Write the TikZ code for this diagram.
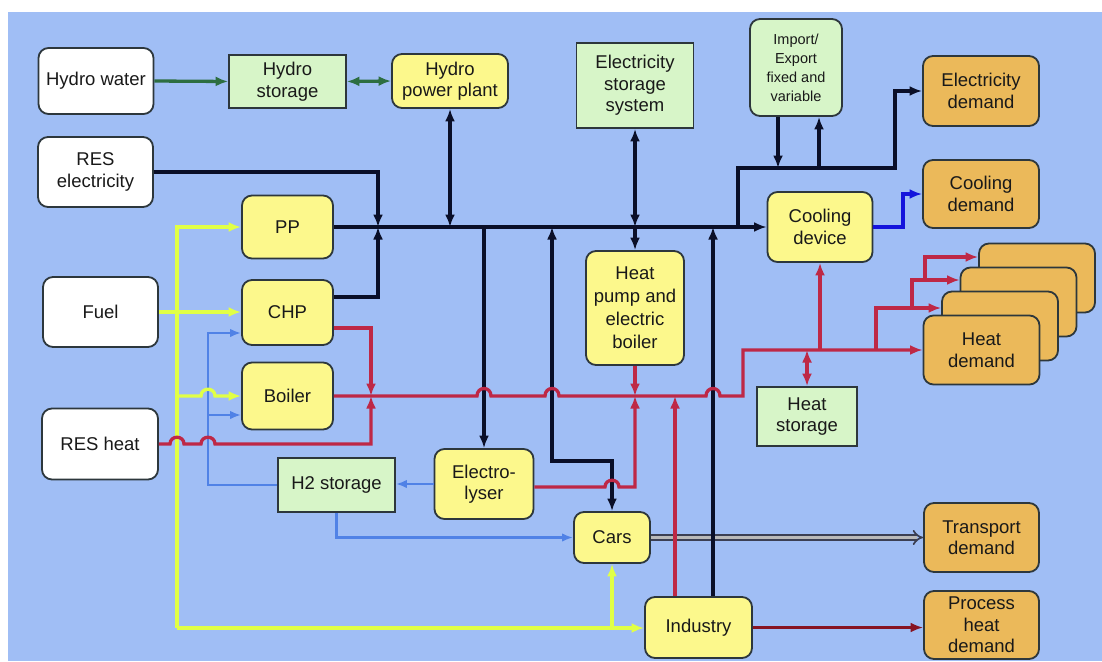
\documentclass[tikz,border=0pt]{standalone}
\usepackage{fontspec}
\setmainfont{Liberation Sans}
\usetikzlibrary{arrows.meta,calc}
\definecolor{bg}{RGB}{160,190,245}
\definecolor{bord}{RGB}{45,55,60}
\definecolor{txt}{RGB}{25,25,25}
\definecolor{yel}{RGB}{252,248,140}
\definecolor{grn}{RGB}{215,245,200}
\definecolor{org}{RGB}{235,185,90}
\definecolor{blk}{RGB}{10,15,40}
\definecolor{redl}{RGB}{190,40,70}
\definecolor{yell}{RGB}{225,255,70}
\definecolor{h2b}{RGB}{80,130,230}
\definecolor{coolb}{RGB}{20,20,220}
\definecolor{dgrn}{RGB}{45,110,65}
\definecolor{dred}{RGB}{135,20,35}
\begin{document}
\begin{tikzpicture}[x=1pt,y=-1pt,
  >={Latex[length=12.5pt,width=10pt]},
  box/.style={draw=bord, line width=1.8pt, align=center, inner sep=1pt, text=txt, font=\fontsize{18.5}{21.5}\selectfont},
  rbox/.style={box, rounded corners=10pt},
  wbox/.style={rbox, fill=white},
  ybox/.style={rbox, fill=yel},
  gbox/.style={box, fill=grn},
  obox/.style={rbox, fill=org},
  sz/.style 2 args={minimum width=#1pt, minimum height=#2pt},
  elec/.style={draw=blk, line width=3.6pt},
  heat/.style={draw=redl, line width=3.3pt},
  fuelc/.style={draw=yell, line width=3.3pt},
  h2c/.style={draw=h2b, line width=2.4pt, >={Latex[length=11pt,width=8.5pt]}},
  coolc/.style={draw=coolb, line width=3.3pt},
  hyd/.style={draw=dgrn, line width=3.3pt},
  pheat/.style={draw=dred, line width=3.3pt},
  trans/.style={draw=blk!80, double=gray!55, double distance=3.4pt, line width=1.7pt}
]
\useasboundingbox (0,0) rectangle (1102,661);
\fill[white] (0,0) rectangle (1102,661);
\fill[bg] (8,12) rectangle (1102,661);

% nodes
\node[wbox, sz={115}{66}] (hw) at (96,81) {Hydro water};
\node[gbox, sz={117}{53}] (hs) at (287.5,81.5) {Hydro\\storage};
\node[ybox, sz={116}{54}] (hpp) at (450,81) {Hydro\\power plant};
\node[gbox, sz={117}{85}] (ess) at (635,85.5) {Electricity\\storage\\system};
\node[gbox, rounded corners=10pt, sz={92}{97}, font=\fontsize{14.5}{19}\selectfont] (ie) at (796,67.5) {Import/\\Export\\fixed and\\variable};
\node[obox, sz={116}{70}] (ed) at (981,91) {Electricity\\demand};
\node[obox, sz={116}{68}] (cd) at (981,194) {Cooling\\demand};
\node[wbox, sz={115}{70}] (rese) at (95.5,172) {RES\\electricity};
\node[ybox, sz={91}{63}] (pp) at (287.5,227) {PP};
\node[ybox, sz={91}{65}] (chp) at (287.5,312.5) {CHP};
\node[ybox, sz={91}{67}] (boiler) at (287.5,396) {Boiler};
\node[wbox, sz={115}{70}] (fuel) at (100.5,312) {Fuel};
\node[wbox, sz={116}{71}] (resh) at (100,444) {RES heat};
\node[gbox, sz={117}{54}] (h2) at (336.5,485) {H2 storage};
\node[ybox, sz={99}{70}] (ely) at (484,484) {Electro-\\lyser};
\node[ybox, sz={76}{51}] (cars) at (612,537.5) {Cars};
\node[ybox, sz={107}{61}] (ind) at (698.5,627.5) {Industry};
\node[ybox, sz={98}{114}, font=\fontsize{18.5}{23}\selectfont] (hp) at (635,308) {Heat\\pump and\\electric\\boiler};
\node[ybox, sz={105}{70}] (cdev) at (820,227) {Cooling\\device};
\node[obox, sz={116}{69}] (hd4) at (1037,278) {};
\node[obox, sz={116}{69}] (hd3) at (1018.5,302) {};
\node[obox, sz={116}{69}] (hd2) at (1000,326) {};
\node[obox, sz={116}{69}] (hd) at (981.5,350) {Heat\\demand};
\node[gbox, sz={100}{59}] (hst) at (807,416.5) {Heat\\storage};
\node[obox, sz={115}{69}] (td) at (981.5,537.5) {Transport\\demand};
\node[obox, sz={115}{68}] (phd) at (981.5,625) {Process\\heat\\demand};

\coordinate (busy) at (0,227);
\coordinate (heaty) at (0,396);
\coordinate (jx) at (378,227);
\coordinate (cv) at (552,461);
\coordinate (yv) at (177,628);
\coordinate (bv) at (208,333);

% hydro
\draw[hyd,->] (hw.east) -- (hs.west);
\draw[hyd,<->] (hs.east) -- (hpp.west);

% fuel (yellow)
\draw[fuelc,->] (fuel.east) -- (chp.west |- fuel.east);
\draw[fuelc,->] (yv) |- (pp.west);
\draw[fuelc,->] (yv) -- (ind.west |- yv);
\draw[fuelc,->] (cars.south |- yv) -- (cars.south);

% hydrogen (blue)
\draw[h2c,->] (ely.west) -- (h2.east |- ely.west);
\draw[h2c,->] (h2.west) -| (bv) -- (chp.west |- bv);
\draw[h2c,->] (208,415) -- (boiler.west |- 0,415);
\draw[h2c,->] (h2.south) |- (cars.west);

\draw[fuelc,->] (177,396) -- (201,396) .. controls (201,387) and (215,387) .. (215,396) -- (boiler.west);

% electricity bus
\draw[elec,->] (pp.east) -- (cdev.west);
\draw[elec,->] (rese.east) -| (jx);
\draw[elec,->] (chp.east |- 0,297) -| (jx);
\draw[elec,<->] (hpp.south) -- (hpp.south |- busy);
\draw[elec,<->] (ess.south) -- (ess.south |- busy);
\draw[elec,->] (hp.north |- busy) -- (hp.north);
\draw[elec,->] (ely.north |- busy) -- (ely.north);
\draw[elec,<->] (cv |- busy) -- (cv) -| (cars.north);
\draw[elec,->] (738,0 |- busy) |- (895,168) |- (ed.west);
\draw[elec,->] (778,0 |- ie.south) -- (778,168);
\draw[elec,->] (819,168) -- (819,0 |- ie.south);
\draw[coolc,->] (cdev.east) -- (903,0 |- cdev.east) |- (cd.west);

% transport
\draw[trans,-{Implies}] (cars.east) -- (td.west |- cars.east);
\draw[elec,->] (713,0 |- ind.north) -- (713,0 |- busy);

% heat
\draw[heat,->] (boiler.east) -- (477,396) .. controls (477,386) and (491,386) .. (491,396) -- (545,396) .. controls (545,386) and (559,386) .. (559,396) -- (706,396) .. controls (706,386) and (720,386) .. (720,396) -- (743,396) |- (hd.west);
\draw[heat,->] (chp.east |- 0,328) -| (371,396);
\draw[heat,->] (resh.east) -- (170,444) .. controls (170,435) and (184,435) .. (184,444) -- (201,444) .. controls (201,435) and (215,435) .. (215,444) -- (371,444) -- (371,396);
\draw[heat,->] (hp.south) -- (hp.south |- heaty);
\draw[heat,->] (ely.east |- 0,487) -- (605,487) .. controls (605,478) and (619,478) .. (619,487) -- (635,487) -- (635,396);
\draw[heat,->] (675,0 |- ind.north) -- (675,396);
\draw[heat,->] (820,350) -- (cdev.south);
\draw[heat,<->] (hst.north) -- (hst.north |- hd.west);
\draw[heat,->] (876,350) |- (hd2.west |- 0,308);
\draw[heat,->] (912,308) |- (hd3.west |- 0,280);
\draw[heat,->] (925,280) |- (hd4.west |- 0,257);

\draw[pheat,->] (ind.east) -- (phd.west |- ind.east);
\end{tikzpicture}
\end{document}
